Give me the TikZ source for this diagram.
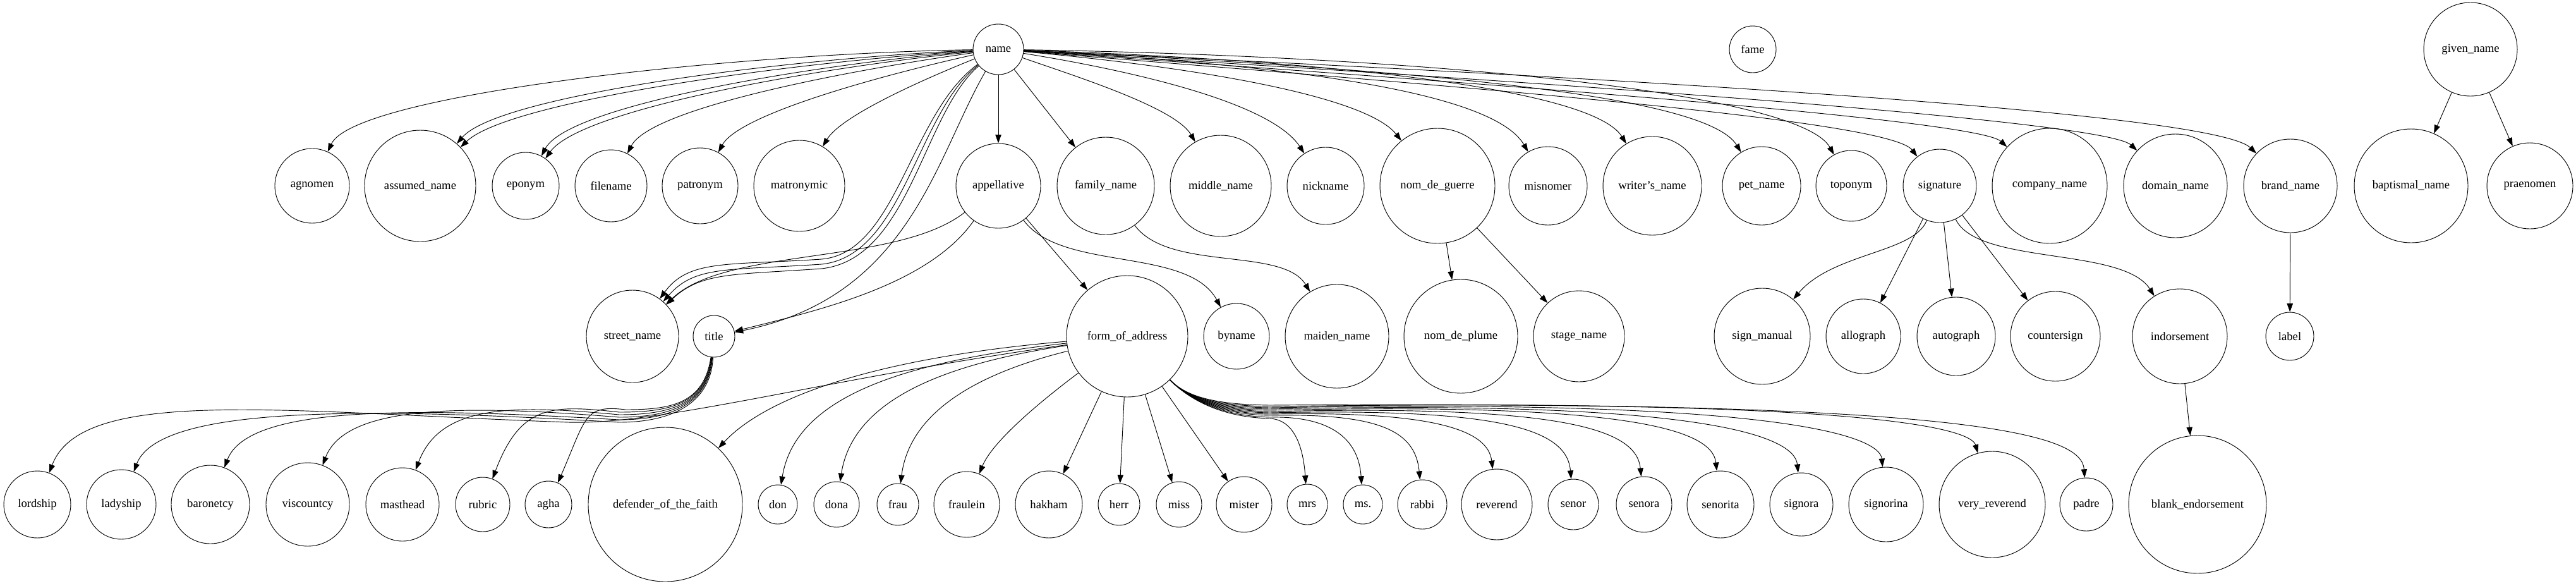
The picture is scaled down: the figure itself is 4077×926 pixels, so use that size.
\documentclass[tikz,border=0pt]{standalone}
\usepackage{fontspec}
\setmainfont{Liberation Serif}
\usetikzlibrary{arrows.meta}
\begin{document}
\begin{tikzpicture}[x=0.75pt,y=-0.75pt,
  nd/.style={circle,draw,line width=0.7pt,inner sep=0pt,font=\fontsize{14pt}{16pt}\selectfont},
  e/.style={draw,line width=0.7pt,-{Triangle[length=10pt,width=7pt]}}]
\useasboundingbox (0,0) rectangle (4077,926);
% row 1
\node[nd,minimum size=60pt] (name) at (1580,78) {name};
\node[nd,minimum size=55.5pt] (fame) at (2774,78) {fame};
\node[nd,minimum size=111pt] (given) at (3910,78) {given\_name};
% row 2
\node[nd,minimum size=88.5pt] (agnomen) at (494,294) {agnomen};
\node[nd,minimum size=132pt] (assumed) at (665,294) {assumed\_name};
\node[nd,minimum size=79.5pt] (eponym) at (832,294) {eponym};
\node[nd,minimum size=85.5pt] (filename) at (967,294) {filename};
\node[nd,minimum size=90pt] (patronym) at (1108,294) {patronym};
\node[nd,minimum size=108pt] (matronymic) at (1265,294) {matronymic};
\node[nd,minimum size=100.5pt] (appellative) at (1580,294) {appellative};
\node[nd,minimum size=115.5pt] (family) at (1750,294) {family\_name};
\node[nd,minimum size=120pt] (middle) at (1932,294) {middle\_name};
\node[nd,minimum size=91.5pt] (nickname) at (2098,294) {nickname};
\node[nd,minimum size=136.5pt] (guerre) at (2275,294) {nom\_de\_guerre};
\node[nd,minimum size=93pt] (misnomer) at (2450,294) {misnomer};
\node[nd,minimum size=117pt] (writers) at (2615,294) {writer's\_name};
\node[nd,minimum size=93pt] (pet) at (2788,294) {pet\_name};
\node[nd,minimum size=84pt] (toponym) at (2930,294) {toponym};
\node[nd,minimum size=87pt] (signature) at (3070,294) {signature};
\node[nd,minimum size=136.5pt] (company) at (3244,294) {company\_name};
\node[nd,minimum size=123pt] (domain) at (3443,294) {domain\_name};
\node[nd,minimum size=111pt] (brand) at (3625,294) {brand\_name};
\node[nd,minimum size=135pt] (baptismal) at (3816,294) {baptismal\_name};
\node[nd,minimum size=102pt] (praenomen) at (4004,294) {praenomen};
% row 3
\node[nd,minimum size=109.5pt] (street) at (1001,532) {street\_name};
\node[nd,minimum size=49.5pt] (title) at (1130,532) {title};
\node[nd,minimum size=144pt] (foa) at (1784,532) {form\_of\_address};
\node[nd,minimum size=78pt] (byname) at (1957,532) {byname};
\node[nd,minimum size=123pt] (maiden) at (2116,532) {maiden\_name};
\node[nd,minimum size=135pt] (plume) at (2312,532) {nom\_de\_plume};
\node[nd,minimum size=108pt] (stage) at (2499,532) {stage\_name};
\node[nd,minimum size=114pt] (signmanual) at (2789,532) {sign\_manual};
\node[nd,minimum size=88.5pt] (allograph) at (2949,532) {allograph};
\node[nd,minimum size=93pt] (autograph) at (3096,532) {autograph};
\node[nd,minimum size=106.5pt] (countersign) at (3253,532) {countersign};
\node[nd,minimum size=112.5pt] (indorsement) at (3450,532) {indorsement};
\node[nd,minimum size=57pt] (lbl) at (3624,532) {label};
% row 4
\node[nd,minimum size=79.5pt] (lordship) at (59,798) {lordship};
\node[nd,minimum size=82.5pt] (ladyship) at (192,798) {ladyship};
\node[nd,minimum size=93pt] (baronetcy) at (333,798) {baronetcy};
\node[nd,minimum size=99pt] (viscountcy) at (487,798) {viscountcy};
\node[nd,minimum size=87pt] (masthead) at (637,798) {masthead};
\node[nd,minimum size=64.5pt] (rubric) at (764,798) {rubric};
\node[nd,minimum size=55.5pt] (agha) at (868,798) {agha};
\node[nd,minimum size=183pt] (defender) at (1053,798) {defender\_of\_the\_faith};
\node[nd,minimum size=46.5pt] (don) at (1231,798) {don};
\node[nd,minimum size=54pt] (dona) at (1324,798) {dona};
\node[nd,minimum size=49.5pt] (frau) at (1421,798) {frau};
\node[nd,minimum size=78pt] (fraulein) at (1530,798) {fraulein};
\node[nd,minimum size=79.5pt] (hakham) at (1660,798) {hakham};
\node[nd,minimum size=49.5pt] (herr) at (1771,798) {herr};
\node[nd,minimum size=54pt] (miss) at (1866,798) {miss};
\node[nd,minimum size=66pt] (mister) at (1969,798) {mister};
\node[nd,minimum size=48pt] (mrs) at (2069,798) {mrs};
\node[nd,minimum size=46.5pt] (ms) at (2157,798) {ms.};
\node[nd,minimum size=58.5pt] (rabbi) at (2251,798) {rabbi};
\node[nd,minimum size=84pt] (reverend) at (2369,798) {reverend};
\node[nd,minimum size=60pt] (senor) at (2490,798) {senor};
\node[nd,minimum size=66pt] (senora) at (2602,798) {senora};
\node[nd,minimum size=79.5pt] (senorita) at (2723,798) {senorita};
\node[nd,minimum size=75pt] (signora) at (2851,798) {signora};
\node[nd,minimum size=88.5pt] (signorina) at (2985,798) {signorina};
\node[nd,minimum size=126pt] (veryrev) at (3153,798) {very\_reverend};
\node[nd,minimum size=63pt] (padre) at (3302,798) {padre};
\node[nd,minimum size=163.5pt] (blank) at (3478,798) {blank\_endorsement};
% name -> left row 2
\draw[e] (name) .. controls (1150,85) and (560,150) .. (agnomen);
\draw[e] (name) .. controls (1250,92) and (790,150) .. (assumed);
\draw[e] (name) .. controls (1250,98) and (805,160) .. (assumed);
\draw[e] (name) .. controls (1300,100) and (900,165) .. (eponym);
\draw[e] (name) .. controls (1300,106) and (920,172) .. (eponym);
\draw[e] (name) .. controls (1350,110) and (1030,170) .. (filename);
\draw[e] (name) .. controls (1400,118) and (1170,180) .. (patronym);
\draw[e] (name) .. controls (1450,130) and (1330,185) .. (matronymic);
% name -> street / title
\draw[e] (name) .. controls (1440,180) and (1420,400) .. (1300,410) .. controls (1150,420) and (1090,410) .. (street);
\draw[e] (name) .. controls (1450,180) and (1430,405) .. (1300,418) .. controls (1150,428) and (1100,420) .. (street);
\draw[e] (name) .. controls (1460,180) and (1440,410) .. (1300,425) .. controls (1160,435) and (1110,430) .. (street);
\draw[e] (name) .. controls (1480,250) and (1440,470) .. (title);
\draw[e] (appellative) .. controls (1420,420) and (1150,390) .. (street);
\draw[e] (appellative) .. controls (1470,450) and (1300,490) .. (title);
% name -> right row 2
\draw[e] (name) -- (appellative);
\draw[e] (name) -- (family);
\draw[e] (name) .. controls (1700,120) and (1860,170) .. (middle);
\draw[e] (name) .. controls (1780,110) and (2010,160) .. (nickname);
\draw[e] (name) .. controls (1880,105) and (2160,150) .. (guerre);
\draw[e] (name) .. controls (2000,100) and (2360,140) .. (misnomer);
\draw[e] (name) .. controls (2100,95) and (2520,140) .. (writers);
\draw[e] (name) .. controls (2250,110) and (2700,150) .. (pet);
\draw[e] (name) .. controls (2300,90) and (2850,150) .. (toponym);
\draw[e] (name) .. controls (2350,140) and (2990,190) .. (signature);
\draw[e] (name) .. controls (2400,135) and (3130,190) .. (company);
\draw[e] (name) .. controls (2450,130) and (3330,190) .. (domain);
\draw[e] (name) .. controls (2500,120) and (3500,175) .. (brand);
% appellative / family / guerre
\draw[e] (appellative) -- (foa);
\draw[e] (appellative) .. controls (1680,430) and (1880,390) .. (byname);
\draw[e] (family) .. controls (1850,430) and (2030,390) .. (maiden);
\draw[e] (guerre) -- (plume);
\draw[e] (guerre) -- (stage);
% signature
\draw[e] (signature) .. controls (3030,400) and (2900,400) .. (signmanual);
\draw[e] (signature) -- (allograph);
\draw[e] (signature) -- (autograph);
\draw[e] (signature) -- (countersign);
\draw[e] (signature) .. controls (3130,420) and (3360,390) .. (indorsement);
\draw[e] (brand) -- (lbl);
\draw[e] (indorsement) -- (blank);
\draw[e] (given) -- (baptismal);
\draw[e] (given) -- (praenomen);
% title children
\draw[e] (title) .. controls (1125,640) and (1060,668) .. (980,668) .. controls (586,645) and (252,640) .. (ladyship);
\draw[e] (title) .. controls (1122,640) and (1060,664) .. (980,664) .. controls (656,645) and (393,640) .. (baronetcy);
\draw[e] (title) .. controls (1120,640) and (1060,660) .. (980,660) .. controls (733,640) and (547,640) .. (viscountcy);
\draw[e] (title) .. controls (1118,640) and (1060,656) .. (980,656) .. controls (808,640) and (697,640) .. (masthead);
\draw[e] (title) .. controls (1116,640) and (1060,652) .. (980,652) .. controls (872,640) and (824,640) .. (rubric);
\draw[e] (title) .. controls (1114,640) and (1060,648) .. (990,648) .. controls (924,640) and (928,660) .. (agha);
% form_of_address children
\draw[e] (foa) .. controls (1300,600) and (1050,672) .. (900,668) .. controls (450,652) and (130,610) .. (lordship);
\draw[e] (foa) .. controls (1450,560) and (1230,610) .. (defender);
\draw[e] (foa) .. controls (1450,570) and (1260,620) .. (don);
\draw[e] (foa) .. controls (1500,575) and (1350,630) .. (dona);
\draw[e] (foa) .. controls (1550,590) and (1440,650) .. (frau);
\draw[e] (foa) .. controls (1640,640) and (1570,700) .. (fraulein);
\draw[e] (foa) -- (hakham);
\draw[e] (foa) -- (herr);
\draw[e] (foa) -- (miss);
\draw[e] (foa) -- (mister);
\draw[e] (foa) .. controls (1880,630) and (1930,660) .. (2010,662) .. controls (2045,664) and (2062,700) .. (mrs);
\draw[e] (foa) .. controls (1880,630) and (1930,658) .. (2010,660) .. controls (2100,658) and (2150,690) .. (ms);
\draw[e] (foa) .. controls (1880,630) and (1930,656) .. (2010,657) .. controls (2180,654) and (2240,680) .. (rabbi);
\draw[e] (foa) .. controls (1880,630) and (1930,654) .. (2010,655) .. controls (2270,650) and (2355,680) .. (reverend);
\draw[e] (foa) .. controls (1880,630) and (1930,652) .. (2010,653) .. controls (2380,645) and (2480,680) .. (senor);
\draw[e] (foa) .. controls (1880,630) and (1930,650) .. (2010,651) .. controls (2480,640) and (2590,680) .. (senora);
\draw[e] (foa) .. controls (1880,630) and (1930,648) .. (2010,649) .. controls (2580,636) and (2710,680) .. (senorita);
\draw[e] (foa) .. controls (1880,630) and (1930,646) .. (2010,647) .. controls (2700,632) and (2840,690) .. (signora);
\draw[e] (foa) .. controls (1880,630) and (1930,644) .. (2010,645) .. controls (2820,630) and (2975,690) .. (signorina);
\draw[e] (foa) .. controls (1880,630) and (1930,642) .. (2010,643) .. controls (2980,630) and (3120,680) .. (veryrev);
\draw[e] (foa) .. controls (1880,630) and (1930,640) .. (2010,641) .. controls (3150,632) and (3295,690) .. (padre);
\end{tikzpicture}
\end{document}
